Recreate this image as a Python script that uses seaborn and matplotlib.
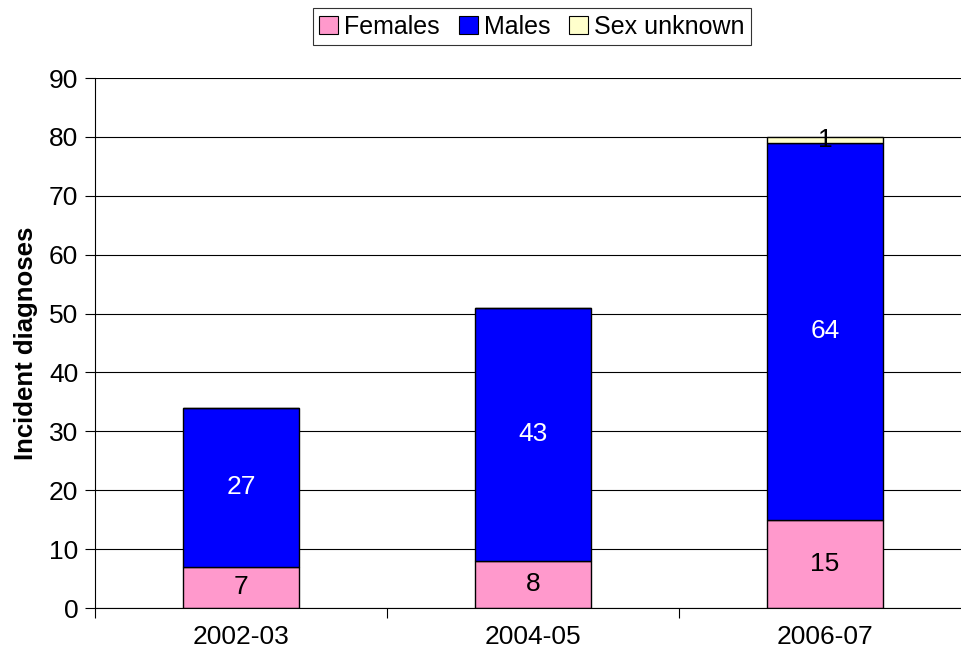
import matplotlib
matplotlib.use("Agg")
import matplotlib.pyplot as plt
from matplotlib.patches import Patch
import seaborn as sns
import numpy as np

# data
periods = ["2002-03", "2004-05", "2006-07"]
females = [7, 8, 15]
males = [27, 43, 64]
unknown = [0, 0, 1]

sns.set_style("white")
plt.rcParams["font.family"] = ["Liberation Sans", "DejaVu Sans"]
plt.rcParams["text.color"] = "black"
plt.rcParams["axes.labelcolor"] = "black"
plt.rcParams["xtick.color"] = "black"
plt.rcParams["ytick.color"] = "black"

fig = plt.figure(figsize=(9.61, 6.59), dpi=100)
ax = fig.add_axes([95 / 961, (659 - 608) / 659, (961 - 95) / 961, 530 / 659])

x = np.arange(len(periods))
width = 0.4

fem = np.array(females)
mal = np.array(males)
unk = np.array(unknown)

sns.barplot(x=periods, y=fem, color="#FF99CC", width=width, ax=ax,
            edgecolor="black", linewidth=1, saturation=1, legend=False)
ax.bar(x, mal, bottom=fem, width=width, color="#0000FF",
       edgecolor="black", linewidth=1)
ax.bar(x, unk, bottom=fem + mal, width=width, color="#FFFFCC",
       edgecolor="black", linewidth=1)

for i in range(len(periods)):
    ax.text(x[i], fem[i] / 2, str(fem[i]), ha="center", va="center",
            fontsize=19, color="black")
    ax.text(x[i], fem[i] + mal[i] / 2, str(mal[i]), ha="center",
            va="center", fontsize=19, color="white")
    if unk[i] > 0:
        ax.text(x[i], fem[i] + mal[i] + unk[i] / 2, str(unk[i]),
                ha="center", va="center", fontsize=19, color="black")

ax.set_ylim(0, 90)
ax.set_yticks(range(0, 91, 10))
ax.set_xlim(-0.5, 2.5 - 10 / 292)
ax.yaxis.grid(True, color="black", linewidth=0.8)
ax.set_axisbelow(True)

for s in ["top", "right"]:
    ax.spines[s].set_visible(False)
for s in ["left", "bottom"]:
    ax.spines[s].set_color("black")
    ax.spines[s].set_linewidth(0.8)

ax.set_xticks(x)
ax.set_xticks([-0.5, 0.5, 1.5], minor=True)
ax.tick_params(axis="x", which="major", length=0, labelsize=19, pad=12)
ax.tick_params(axis="x", which="minor", length=7, width=0.8, color="black",
               direction="out", bottom=True)
ax.tick_params(axis="y", length=7, width=0.8, color="black",
               direction="out", left=True, labelsize=19, pad=5)

ax.set_ylabel("Incident diagnoses", fontsize=18.5, fontweight="bold", labelpad=8)

handles = [Patch(facecolor=c, edgecolor="black", linewidth=0.8)
           for c in ["#FF99CC", "#0000FF", "#FFFFCC"]]
labels = ["Females", "Males", "Sex unknown"]
leg = fig.legend(handles, labels, loc="upper center", bbox_to_anchor=(532 / 961, 0.995),
                 ncol=3, fontsize=18, frameon=True, fancybox=False,
                 edgecolor="black", handlelength=0.75, handleheight=0.75,
                 handletextpad=0.25, columnspacing=0.75, borderpad=0.25,
                 borderaxespad=0.2)
leg.get_frame().set_linewidth(0.8)

fig.savefig("out.png", dpi=100)
